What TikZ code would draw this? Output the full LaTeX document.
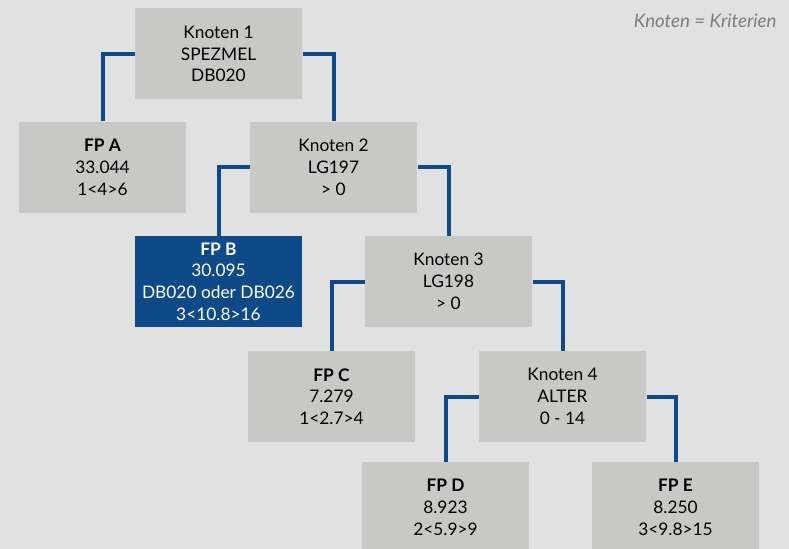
\documentclass[tikz,border=0pt]{standalone}
\usepackage{fontspec}
\setmainfont{Lato}
\definecolor{treeblue}{RGB}{14,74,135}
\definecolor{boxgray}{RGB}{200,200,198}
\definecolor{bggray}{RGB}{225,225,225}
\definecolor{notegray}{RGB}{125,125,125}

\tikzset{every picture/.style={line width=0.75pt}}
\tikzset{
  knoten/.style={fill=boxgray, minimum width=125.25pt, minimum height=68.25pt,
    inner sep=0pt, align=center, font=\fontsize{13}{16.3}\selectfont},
  fpblau/.style={knoten, fill=treeblue, text=white},
  ast/.style={draw=treeblue, line width=3pt},
}

\begin{document}
\begin{tikzpicture}[x=0.75pt,y=0.75pt,yscale=-1,xscale=1]
\useasboundingbox (0,0) rectangle (789,549);
\fill[bggray] (0,0) rectangle (789,549);

%Legend
\node (legende) [anchor=east, inner sep=0pt, text=notegray, font=\fontsize{14}{16}\selectfont\itshape] at (777,21) {Knoten = Kriterien};

%Knoten
\node (k1) [knoten] at (218.5,54) {Knoten 1\\SPEZMEL\\DB020};
\node (k2) [knoten] at (333.5,167.5) {Knoten 2\\LG197\\> 0};
\node (k3) [knoten] at (448.5,281.5) {Knoten 3\\LG198\\> 0};
\node (k4) [knoten] at (562.5,396.5) {Knoten 4\\ALTER\\0 - 14};

%Endknoten
\node (fpa) [knoten] at (102.5,167.5) {\textbf{FP A}\\33.044\\1<4>6};
\node (fpb) [fpblau] at (218.5,281.5) {\textbf{FP B}\\30.095\\DB020 oder DB026\\3<10.8>16};
\node (fpc) [knoten] at (331.5,396.5) {\textbf{FP C}\\7.279\\1<2.7>4};
\node (fpd) [knoten] at (445.5,507.5) {\textbf{FP D}\\8.923\\2<5.9>9};
\node (fpe) [knoten] at (675.5,507.5) {\textbf{FP E}\\8.250\\3<9.8>15};

%Aeste
\draw [ast] (k1.west) -| (fpa.north);
\draw [ast] (k1.east) -| (k2.north);
\draw [ast] (k2.west) -| (fpb.north);
\draw [ast] (k2.east) -| (k3.north);
\draw [ast] (k3.west) -| (fpc.north);
\draw [ast] (k3.east) -| (k4.north);
\draw [ast] (k4.west) -| (fpd.north);
\draw [ast] (k4.east) -| (fpe.north);

\end{tikzpicture}
\end{document}
